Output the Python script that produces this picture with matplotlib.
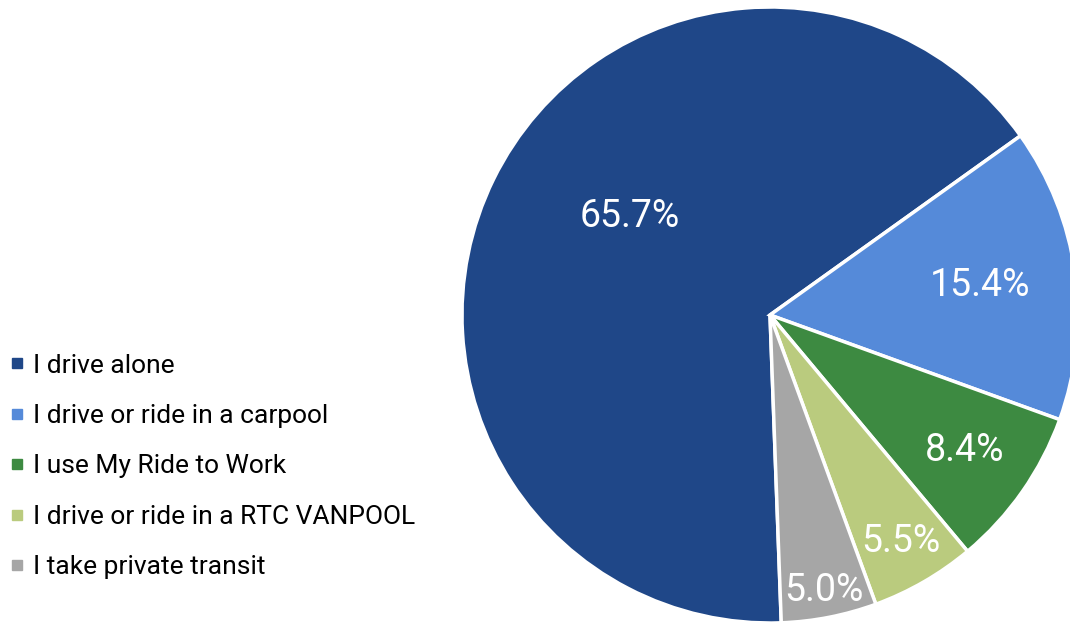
import matplotlib
matplotlib.use("Agg")
import matplotlib.pyplot as plt
from matplotlib.lines import Line2D
import numpy as np

categories = ["I drive alone", "I drive or ride in a carpool", "I use My Ride to Work",
              "I drive or ride in a RTC VANPOOL", "I take private transit"]
values = [65.7, 15.4, 8.4, 5.5, 5.0]
colors = ["#1F4788", "#558AD9", "#3D8A41", "#BACB7E", "#A6A6A6"]

plt.rcParams['font.family'] = ['Roboto', 'DejaVu Sans']

fig = plt.figure(figsize=(10.7, 6.25), dpi=100)
R = 308
cx, cy = 770, 315
ax = fig.add_axes([(cx - R) / 1070, (625 - cy - R) / 625, 2 * R / 1070, 2 * R / 625])
wedges, _ = ax.pie(values, colors=colors, startangle=272.1, counterclock=False,
                   radius=1, wedgeprops=dict(edgecolor="white", linewidth=2.5))
ax.set_xlim(-1, 1)
ax.set_ylim(-1, 1)
ax.set_aspect('equal')
ax.axis('off')

dist = [0.555, 0.69, 0.77, 0.85, 0.91]
for w, v, d in zip(wedges, values, dist):
    theta = np.deg2rad((w.theta1 + w.theta2) / 2)
    if v == values[0]:
        theta = np.deg2rad(145)
    ax.text(d * np.cos(theta), d * np.sin(theta), f"{v:.1f}%", ha='center', va='center',
            color='white', fontsize=27)

handles = [Line2D([], [], marker='s', linestyle='none', markersize=7.5, color=c) for c in colors]
fig.legend(handles, categories, loc='center left', bbox_to_anchor=(0.01, (625 - 466.5) / 625),
           frameon=False, fontsize=19, handlelength=0.5, handletextpad=0.35,
           labelspacing=1.0, borderaxespad=0, borderpad=0)
fig.savefig("out.png", dpi=100)
